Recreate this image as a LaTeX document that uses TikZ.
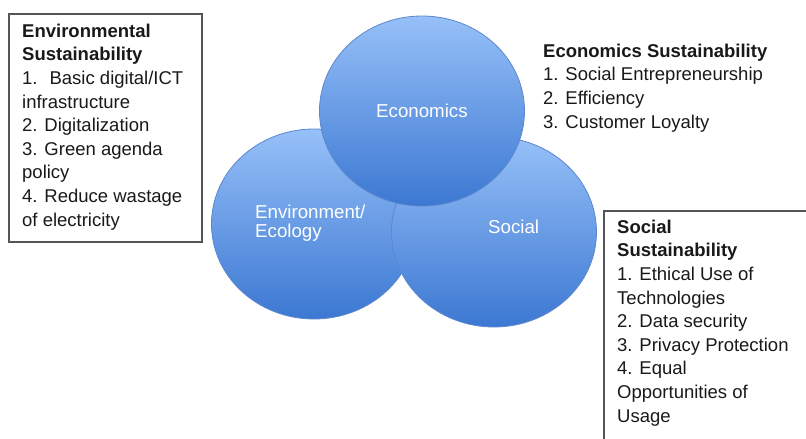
\documentclass[tikz,border=0pt]{standalone}
\usepackage{fontspec}
\setmainfont{Liberation Sans}
\usepackage{tikz}
\usetikzlibrary{shapes.geometric}
\definecolor{lightblue}{RGB}{150,192,248}
\definecolor{deepblue}{RGB}{60,120,210}
\definecolor{ringblue}{RGB}{92,135,205}
\definecolor{framegray}{RGB}{85,85,85}
\definecolor{inkgray}{RGB}{25,25,25}

\begin{document}
\begin{tikzpicture}[x=1pt, y=-1pt,
    sphere/.style={ellipse, draw=ringblue, line width=0.8pt, top color=lightblue,
        bottom color=deepblue, minimum width=205pt, minimum height=190pt, inner sep=0pt},
    caption/.style={text=white, font=\fontsize{18.7}{19}\selectfont, align=left,
        inner sep=0pt, anchor=base west},
    list/.style={text=inkgray, font=\fontsize{18.5}{23.6}\selectfont, align=left,
        inner sep=0pt, anchor=base west},
    frame/.style={draw=framegray, line width=1.3pt}]
            \clip (0,0) rectangle (806,439);
            \coordinate (Env) at (314,224);
            \coordinate (Soc) at (494,232);
            \coordinate (Eco) at (422,111);
            \node[sphere] (env) at (Env) {};
            \node[sphere] (soc) at (Soc) {};
            \node[sphere] (eco) at (Eco) {};
            \node[caption] (envtext) at (255,237) {Environment/\\Ecology};
            \node[caption] (soctext) at (488,233) {Social};
            \node[caption] (ecotext) at (376,117) {Economics};
            \draw[frame] (9,14) rectangle (202,242);
            \draw[frame] (604,211) rectangle (812,450);
            \node[list] (envlist) at (22,226) {\textbf{Environmental}\\\textbf{Sustainability}\\
                1.~ Basic digital/ICT\\infrastructure\\2. Digitalization\\3. Green agenda\\
                policy\\4. Reduce wastage\\of electricity};
            \node[list] (ecolist) at (543,128) {\textbf{Economics Sustainability}\\
                1. Social Entrepreneurship\\2. Efficiency\\3. Customer Loyalty};
            \node[list] (soclist) at (617,422) {\textbf{Social}\\\textbf{Sustainability}\\
                1. Ethical Use of\\Technologies\\2. Data security\\3. Privacy Protection\\
                4. Equal\\Opportunities of\\Usage};
        \end{tikzpicture}
\end{document}
